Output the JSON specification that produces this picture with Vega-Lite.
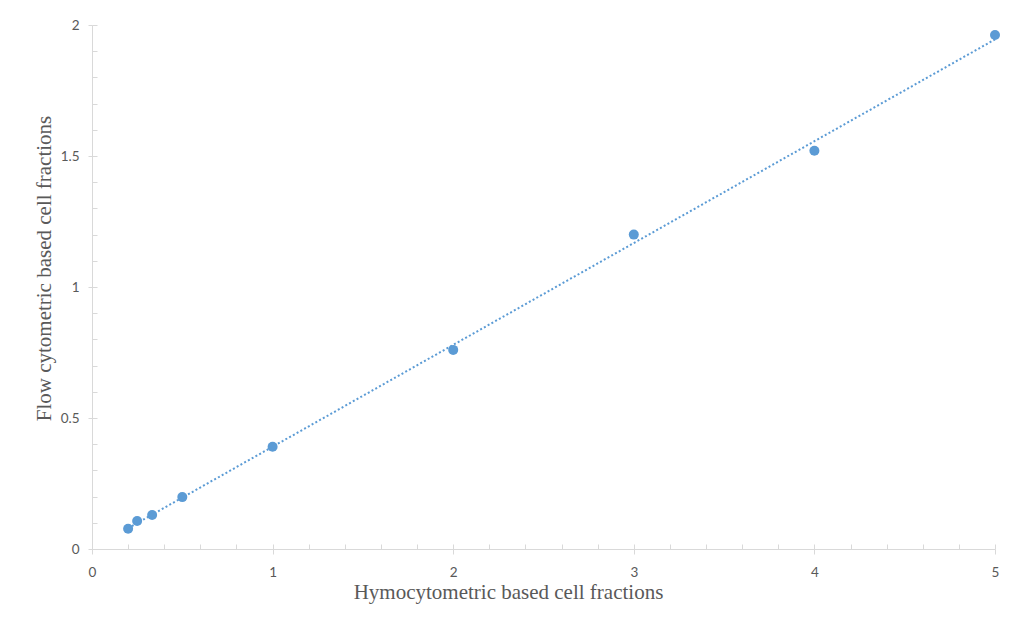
{
  "$schema": "https://vega.github.io/schema/vega-lite/v6.json",
  "width": 903,
  "height": 524,
  "autosize": {"type": "none"},
  "padding": {"left": 92, "top": 25, "right": 14, "bottom": 81},
  "background": "white",
  "config": {
    "view": {"stroke": null},
    "axis": {
      "grid": false,
      "labelFlush": false,
      "domainColor": "#d9d9d9",
      "tickColor": "#d9d9d9",
      "labelFont": "Lato",
      "labelFontSize": 13.5,
      "labelColor": "#595959",
      "titleFont": "Liberation Serif",
      "titleFontSize": 21,
      "titleFontWeight": "normal",
      "titleColor": "#595959"
    }
  },
  "data": {
    "values": [
      {"x": 0.2, "y": 0.077},
      {"x": 0.25, "y": 0.107},
      {"x": 0.333, "y": 0.13},
      {"x": 0.5, "y": 0.198},
      {"x": 1, "y": 0.39},
      {"x": 2, "y": 0.76},
      {"x": 3, "y": 1.2},
      {"x": 4, "y": 1.52},
      {"x": 5, "y": 1.962}
    ]
  },
  "layer": [
    {
      "transform": [{"regression": "y", "on": "x"}],
      "mark": {"type": "line", "color": "#5b9bd5", "strokeWidth": 2, "strokeDash": [2, 2.3], "strokeCap": "butt"},
      "encoding": {
        "x": {
          "field": "x", "type": "quantitative",
          "scale": {"domain": [0, 5], "nice": false, "zero": false},
          "axis": {
            "orient": "bottom", "title": null, "labels": false, "domain": false,
            "values": [0, 0.2, 0.4, 0.6, 0.8, 1, 1.2, 1.4, 1.6, 1.8, 2, 2.2, 2.4, 2.6, 2.8, 3, 3.2, 3.4, 3.6, 3.8, 4, 4.2, 4.4, 4.6, 4.8, 5],
            "tickSize": -5, "tickWidth": 1
          }
        },
        "y": {
          "field": "y", "type": "quantitative",
          "scale": {"domain": [0, 2], "nice": false, "zero": false},
          "axis": {
            "orient": "left", "title": null, "labels": false, "domain": false,
            "values": [0, 0.1, 0.2, 0.3, 0.4, 0.5, 0.6, 0.7, 0.8, 0.9, 1, 1.1, 1.2, 1.3, 1.4, 1.5, 1.6, 1.7, 1.8, 1.9, 2],
            "tickSize": -5, "tickWidth": 1
          }
        }
      }
    },
    {
      "mark": {"type": "circle", "color": "#5b9bd5", "opacity": 1, "size": 100},
      "encoding": {
        "x": {
          "field": "x", "type": "quantitative",
          "axis": {
            "orient": "bottom",
            "title": "Hymocytometric based cell fractions",
            "values": [0, 1, 2, 3, 4, 5],
            "format": "~g",
            "tickSize": 5,
            "labelPadding": 11,
            "titleX": 416,
            "titleY": 49,
            "titleAlign": "center",
            "titleBaseline": "alphabetic"
          }
        },
        "y": {
          "field": "y", "type": "quantitative",
          "axis": {
            "orient": "left",
            "title": "Flow cytometric based cell fractions",
            "values": [0, 0.5, 1, 1.5, 2],
            "format": "~g",
            "tickSize": 4,
            "labelPadding": 9,
            "titleX": -42,
            "titleY": 243,
            "titleAngle": -90,
            "titleAlign": "center",
            "titleBaseline": "alphabetic"
          }
        }
      }
    }
  ],
  "resolve": {"axis": {"x": "independent", "y": "independent"}}
}
